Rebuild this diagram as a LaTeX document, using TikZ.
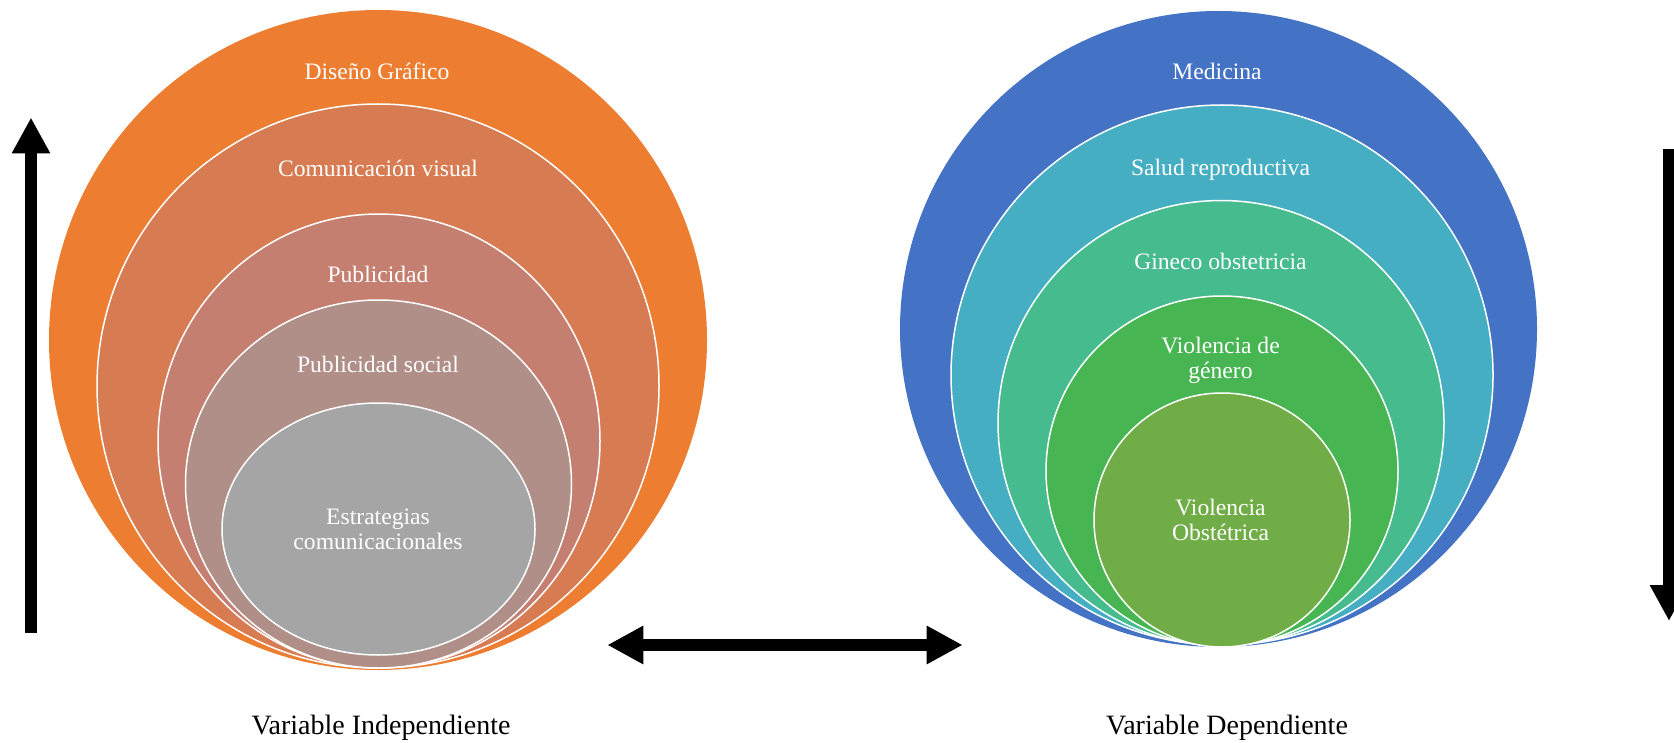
\documentclass[tikz,border=0pt]{standalone}
\usepackage{fontspec}
\setmainfont{Liberation Serif}
\usetikzlibrary{shapes.geometric,arrows.meta}
\definecolor{cA1}{HTML}{ED7D31}
\definecolor{cA2}{HTML}{D77B52}
\definecolor{cA3}{HTML}{C47F70}
\definecolor{cA4}{HTML}{B08F88}
\definecolor{cA5}{HTML}{A5A5A5}
\definecolor{cB1}{HTML}{4472C4}
\definecolor{cB2}{HTML}{45AEC2}
\definecolor{cB3}{HTML}{45BB8E}
\definecolor{cB4}{HTML}{48B553}
\definecolor{cB5}{HTML}{70AD47}
\tikzset{
  ring/.style={ellipse, inner sep=0pt, outer sep=0pt, draw=white, line width=0.75pt},
  outerring/.style={ellipse, inner sep=0pt, outer sep=0pt, draw=none},
  wtxt/.style={text=white, inner sep=0pt, align=center, font=\fontsize{11.8}{12.6}\selectfont},
  btxt/.style={text=black, inner sep=0pt, font=\fontsize{14}{16}\selectfont},
  bigarrow/.style={line width=6.25pt, line cap=butt, -{Triangle[length=18pt,width=18pt]}},
  dblarrow/.style={line width=6.25pt, line cap=butt, {Triangle[length=18pt,width=18pt]}-{Triangle[length=18pt,width=18pt]}}
}
\begin{document}
\begin{tikzpicture}[x=0.5pt,y=-0.5pt]
\useasboundingbox (0,0) rectangle (1674,743);
% left nested ellipses
\node[outerring, fill=cA1, minimum width=329pt, minimum height=330pt] (L1) at (378,340) {};
\node[ring, fill=cA2, minimum width=281pt, minimum height=282pt] (L2) at (378,386) {};
\node[ring, fill=cA3, minimum width=221pt, minimum height=227pt] (L3) at (379,441) {};
\node[ring, fill=cA4, minimum width=193pt, minimum height=184pt] (L4) at (378.5,484) {};
\node[ring, fill=cA5, minimum width=156.5pt, minimum height=126pt] (L5) at (378.5,529) {};
% right nested ellipses
\node[outerring, fill=cB1, minimum width=318.5pt, minimum height=318pt] (R1) at (1218.5,329) {};
\node[ring, fill=cB2, minimum width=271pt, minimum height=270pt] (R2) at (1222,375) {};
\node[ring, fill=cB3, minimum width=223pt, minimum height=222.5pt] (R3) at (1221,423) {};
\node[ring, fill=cB4, minimum width=176pt, minimum height=175pt] (R4) at (1222,471) {};
\node[ring, fill=cB5, minimum width=128pt, minimum height=127pt] (R5) at (1222,520) {};
% texts left
\node[wtxt, anchor=base] (t1) at (377,80) {Diseño Gráfico};
\node[wtxt, anchor=base] (t2) at (378,177) {Comunicación visual};
\node[wtxt, anchor=base] (t3) at (378,282) {Publicidad};
\node[wtxt, anchor=base] (t4) at (378,372) {Publicidad social};
\node[wtxt] (t5) at (378,529) {Estrategias\\comunicacionales};
% texts right
\node[wtxt, anchor=base] (s1) at (1217,80) {Medicina};
\node[wtxt, anchor=base] (s2) at (1220.5,176) {Salud reproductiva};
\node[wtxt, anchor=base] (s3) at (1220.5,269.5) {Gineco obstetricia};
\node[wtxt] (s4) at (1220.5,360) {Violencia de\\género};
\node[wtxt] (s5) at (1220.5,520) {Violencia\\Obstétrica};
% bottom labels
\node[btxt, anchor=base] (lab1) at (381,734) {Variable Independiente};
\node[btxt, anchor=base] (lab2) at (1227,734) {Variable Dependiente};
% arrows
\coordinate (a1s) at (31,632.7);
\coordinate (a1e) at (31,117.5);
\coordinate (a2s) at (1669,149.5);
\coordinate (a2e) at (1669,621);
\coordinate (a3s) at (607.3,645);
\coordinate (a3e) at (962.7,645);
\draw[bigarrow] (a1s) -- (a1e);
\draw[bigarrow] (a2s) -- (a2e);
\draw[dblarrow] (a3s) -- (a3e);
\end{tikzpicture}
\end{document}
